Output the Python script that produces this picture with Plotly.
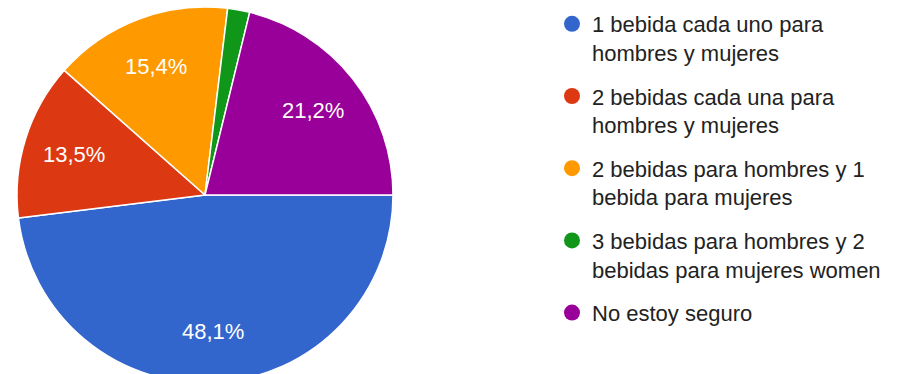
import math
import plotly.graph_objects as go

# Survey answers (share of responses, %)
categories = [
    "1 bebida cada uno para<br>hombres y mujeres",
    "2 bebidas cada una para<br>hombres y mujeres",
    "2 bebidas para hombres y 1<br>bebida para mujeres",
    "3 bebidas para hombres y 2<br>bebidas para mujeres women",
    "No estoy seguro",
]
shares = [48.1, 13.5, 15.4, 1.9, 21.2]
colors = ["#3366CC", "#DC3912", "#FF9900", "#109618", "#990099"]

W, H = 910, 390
FONT = "Liberation Sans, Arial, sans-serif"

# Pie placement in pixels (center and radius)
CX, CY, R = 205, 195, 188
LABEL_R = 0.73  # label distance from center, as fraction of radius

fig = go.Figure()

fig.add_trace(go.Pie(
    labels=categories,
    values=shares,
    textinfo="none",
    marker=dict(colors=colors, line=dict(color="white", width=1.5)),
    sort=False,
    direction="clockwise",
    rotation=90,
    showlegend=False,
    hoverinfo="label+percent",
    domain=dict(x=[(CX - R) / W, (CX + R) / W],
                y=[(H - CY - R) / H, (H - CY + R) / H]),
))

# Percentage labels at each slice's mid-angle (start at 3 o'clock, clockwise)
total = sum(shares)
acc = 0.0
annotations = []
for v in shares:
    mid = (acc + v / 2) / total * 2 * math.pi
    acc += v
    if v < 5:
        continue
    px = CX + LABEL_R * R * math.cos(mid)
    py = CY + LABEL_R * R * math.sin(mid)
    annotations.append(dict(
        x=px / W, y=1 - py / H, xref="paper", yref="paper",
        text=f"{v:.1f}%".replace(".", ","), showarrow=False,
        xanchor="center", yanchor="middle",
        font=dict(family=FONT, size=22, color="white"),
    ))

# Legend entries with round swatches
for i, (name, col) in enumerate(zip(categories, colors)):
    fig.add_trace(go.Scatter(
        x=[None], y=[None], mode="markers", name=name,
        legendgroup=f"g{i}",
        marker=dict(color=col, size=22, symbol="circle"),
        hoverinfo="skip",
    ))

fig.update_layout(
    width=W, height=H,
    margin=dict(l=0, r=0, t=0, b=0),
    paper_bgcolor="white", plot_bgcolor="white",
    xaxis=dict(visible=False), yaxis=dict(visible=False),
    annotations=annotations,
    legend=dict(
        x=552 / W, xanchor="left",
        y=1 - 3 / H, yanchor="top",
        font=dict(family=FONT, size=22, color="#222222"),
        valign="top",
        tracegroupgap=12,
        bgcolor="rgba(0,0,0,0)",
    ),
    font=dict(family=FONT),
)

fig.write_html(
    "out.html",
    post_script="document.body.style.margin='0';"
                "document.documentElement.style.overflow='hidden';"
                "document.body.style.overflow='hidden';",
)
